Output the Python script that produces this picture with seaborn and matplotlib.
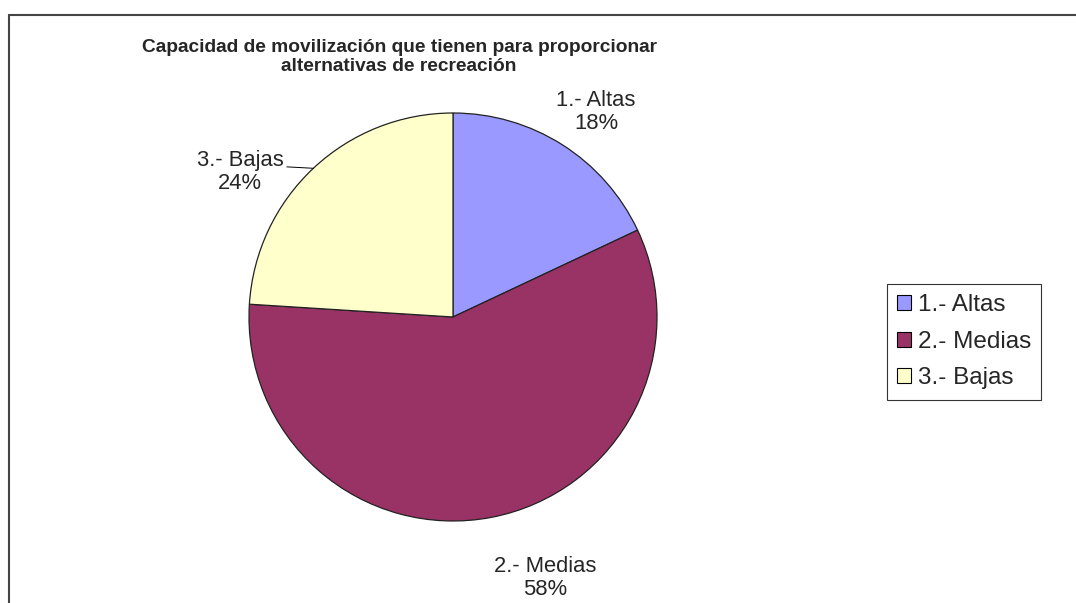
import numpy as np
import matplotlib
matplotlib.use("Agg")
import matplotlib.pyplot as plt
import seaborn as sns
from matplotlib.lines import Line2D
from matplotlib.patches import Patch

# -----------------------------------------
# DATA
# -----------------------------------------
categories = ["1.- Altas", "2.- Medias", "3.- Bajas"]
values = [18, 58, 24]
colors = ["#9999FF", "#993366", "#FFFFCC"]
title = "Capacidad de movilización que tienen para proporcionar\nalternativas de recreación"

# label layout (angle in degrees, distance in radii) per slice
label_angle = [55.1, -70.6, 145.7]
label_dist = [1.225, 1.356, 1.263]

# -----------------------------------------
# STYLE
# -----------------------------------------
sns.set_style("white")
plt.rcParams["font.family"] = ["Liberation Sans", "DejaVu Sans"]

fig = plt.figure(figsize=(10.76, 6.03), dpi=100)

# pie axes: centre (453, 317) px, radius 204 px
W, H = 1076, 603
cx, cy, r = 453, 317, 204
ax = fig.add_axes([(cx - r) / W, (H - cy - r) / H, 2 * r / W, 2 * r / H])

wedges, _ = ax.pie(values, colors=colors, startangle=90, counterclock=False,
                   wedgeprops=dict(edgecolor="#222222", linewidth=0.9))
ax.set_xlim(-1, 1)
ax.set_ylim(-1, 1)
ax.set_aspect("equal")
ax.axis("off")

total = sum(values)
for i, (cat, val) in enumerate(zip(categories, values)):
    a = np.deg2rad(label_angle[i])
    d = label_dist[i]
    ax.text(d * np.cos(a), d * np.sin(a), f"{cat}\n{round(val / total * 100)}%",
            ha="center", va="center", fontsize=15.8, linespacing=1.1,
            clip_on=False)

# leader line for the "Bajas" label
w = wedges[2]
mid = np.deg2rad((w.theta1 + w.theta2) / 2)
ex, ey = np.cos(mid), np.sin(mid)
ax.plot([ex - 0.13, ex], [ey + 0.007, ey], color="black", lw=0.7, clip_on=False)

# title
fig.text(399 / W, 1 - 57 / H, title, ha="center", va="center",
         fontsize=13.8, fontweight="bold", linespacing=1.2)

# legend
handles = [Patch(facecolor=c, edgecolor="black", linewidth=0.8) for c in colors]
leg = fig.legend(handles, categories, loc="upper left",
                 bbox_to_anchor=(887 / W, 1 - 284 / H), fontsize=17.5,
                 frameon=True, fancybox=False, edgecolor="black",
                 handlelength=0.55, handleheight=0.55, handletextpad=0.3,
                 labelspacing=0.6, borderpad=0.42, borderaxespad=0)
leg.get_frame().set_linewidth(0.8)

# chart-area border (top and left edges visible)
fig.add_artist(Line2D([8.5 / W, 1], [1 - 14.5 / H, 1 - 14.5 / H],
                      transform=fig.transFigure, color="#444444", lw=1.5))
fig.add_artist(Line2D([8.5 / W, 8.5 / W], [0, 1 - 14.5 / H],
                      transform=fig.transFigure, color="#444444", lw=1.5))

plt.savefig("out.png", dpi=100)
